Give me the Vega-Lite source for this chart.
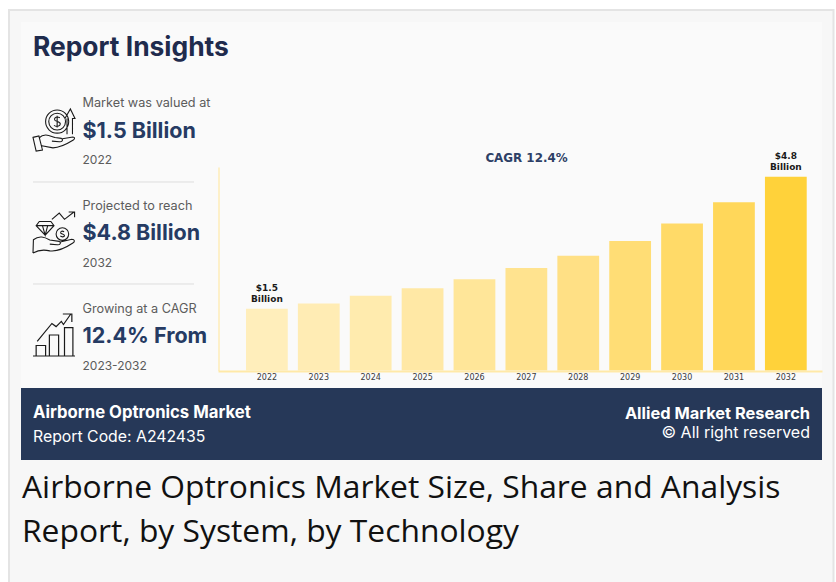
{
"$schema":"https://vega.github.io/schema/vega-lite/v6.json",
"width":836,"height":582,"padding":0,"autosize":{"type":"none"},
"background":"#ffffff",
"config":{"view":{"stroke":null},"axis":{"grid":false}},
"resolve":{"scale":{"x":"independent","y":"independent","color":"independent"},"axis":{"x":"independent","y":"independent"}},
"layer":[
{"data":{"values":[{"area":"card"}]},"mark":{"type":"rect","fill":"#f7f7f7","stroke":"#e4e4e4","strokeWidth":2},
 "encoding":{"x":{"field":"area","type":"nominal","axis":null,"scale":{"range":[9,833.5],"paddingInner":0,"paddingOuter":0}},"y":{"field":"area","type":"nominal","axis":null,"scale":{"range":[10,600],"paddingInner":0,"paddingOuter":0}}}},
{"data":{"values":[{"area":"panel"}]},"mark":{"type":"rect","fill":"#fafafa"},
 "encoding":{"x":{"field":"area","type":"nominal","axis":null,"scale":{"range":[21,822],"paddingInner":0,"paddingOuter":0}},"y":{"field":"area","type":"nominal","axis":null,"scale":{"range":[22,388],"paddingInner":0,"paddingOuter":0}}}},
{"data":{"values":[{"area":"footer"}]},"mark":{"type":"rect","fill":"#263858"},
 "encoding":{"x":{"field":"area","type":"nominal","axis":null,"scale":{"range":[21,822],"paddingInner":0,"paddingOuter":0}},"y":{"field":"area","type":"nominal","axis":null,"scale":{"range":[388,460],"paddingInner":0,"paddingOuter":0}}}},
{"data":{"values":[{"divider":"a"},{"divider":"b"}]},"mark":{"type":"rule","stroke":"#dddddd","strokeWidth":1},
 "encoding":{"x":{"datum":0,"type":"quantitative","axis":null,"scale":{"domain":[0,1],"range":[33,194]}},"x2":{"datum":1},"y":{"field":"divider","type":"nominal","axis":null,"scale":{"type":"point","range":[182,284],"padding":0}}}},
{"data":{"name":"bars","values":[
{"year":"2022","value":1.53},{"year":"2023","value":1.66},{"year":"2024","value":1.85},{"year":"2025","value":2.04},{"year":"2026","value":2.26},{"year":"2027","value":2.54},{"year":"2028","value":2.84},{"year":"2029","value":3.21},{"year":"2030","value":3.64},{"year":"2031","value":4.17},{"year":"2032","value":4.80}]},
 "mark":{"type":"bar"},
 "encoding":{
 "x":{"field":"year","type":"ordinal","scale":{"type":"band","range":[218,822],"paddingInner":0.195,"paddingOuter":0.417,"align":0.647},
  "axis":{"orient":"bottom","offset":-211,"zindex":1,"title":null,"ticks":false,"labelAngle":0,"labelFont":"DejaVu Sans","labelFontSize":8,"labelColor":"#3a3a3a","labelPadding":2,"domainColor":"#ffe9a8","domainWidth":2}},
 "y":{"field":"value","type":"quantitative","scale":{"domain":[0,5.04],"range":[370.5,167],"nice":false},
  "axis":{"orient":"left","offset":-218.5,"zindex":1,"title":null,"ticks":false,"labels":false,"grid":false,"domainColor":"#ffe9a8","domainWidth":1.2}},
 "color":{"field":"year","type":"ordinal","legend":null,"scale":{"range":["#ffeebb","#ffecb4","#ffebae","#ffe8a5","#ffe699","#ffe38f","#ffe085","#ffdd75","#ffda68","#ffd75a","#ffd23a"]}}}},
{"data":{"values":[{"year":"2022","value":1.53,"label":"$1.5\nBillion"},{"year":"2032","value":4.80,"label":"$4.8\nBillion"}]},
 "mark":{"type":"text","font":"DejaVu Sans","fontWeight":"bold","fontSize":9,"color":"#1a1a1a","lineBreak":"\n","lineHeight":11,"baseline":"bottom","dy":-15.5},
 "encoding":{"text":{"field":"label"},
 "x":{"field":"year","type":"ordinal","axis":null,"scale":{"type":"band","domain":["2022","2023","2024","2025","2026","2027","2028","2029","2030","2031","2032"],"range":[218,822],"paddingInner":0.195,"paddingOuter":0.417,"align":0.647}},
 "y":{"field":"value","type":"quantitative","axis":null,"scale":{"domain":[0,5.04],"range":[370.5,167],"nice":false}}}},
{"data":{"values":[{"text":"CAGR 12.4%"}]},
 "mark":{"type":"text","font":"DejaVu Sans","fontWeight":"bold","fontSize":11.9,"color":"#2d3f66","align":"center","baseline":"middle"},
 "encoding":{"text":{"field":"text"},"x":{"datum":0,"type":"quantitative","axis":null,"scale":{"domain":[0,1],"range":[526.5,527]}},"y":{"datum":0,"type":"quantitative","axis":null,"scale":{"domain":[0,1],"range":[158,159]}}}},
{"data":{"values":[{"text":"Report Insights"}]},
 "mark":{"type":"text","font":"Inter","fontWeight":"bold","fontSize":26.4,"color":"#1f2b4d","align":"left","baseline":"middle"},
 "encoding":{"text":{"field":"text"},"x":{"datum":0,"type":"quantitative","axis":null,"scale":{"domain":[0,1],"range":[33,34]}},"y":{"datum":0,"type":"quantitative","axis":null,"scale":{"domain":[0,1],"range":[48,49]}}}},
{"data":{"values":[{"text":"Market was valued at"},{"text":"Projected to reach"},{"text":"Growing at a CAGR"}]},
 "mark":{"type":"text","font":"Inter","fontSize":12.7,"color":"#5c5c5c","align":"left","baseline":"middle"},
 "encoding":{"text":{"field":"text"},"x":{"datum":0,"type":"quantitative","axis":null,"scale":{"domain":[0,1],"range":[82.5,83]}},"y":{"field":"text","type":"nominal","sort":null,"axis":null,"scale":{"type":"point","range":[102.5,308.5],"padding":0}}}},
{"data":{"values":[{"text":"$1.5 Billion"},{"text":"$4.8 Billion"},{"text":"12.4% From"}]},
 "mark":{"type":"text","font":"Inter","fontWeight":"bold","fontSize":21.5,"color":"#263b63","align":"left","baseline":"middle"},
 "encoding":{"text":{"field":"text"},"x":{"datum":0,"type":"quantitative","axis":null,"scale":{"domain":[0,1],"range":[82.5,83]}},"y":{"field":"text","type":"nominal","sort":null,"axis":null,"scale":{"type":"point","range":[131.5,337],"padding":0}}}},
{"data":{"values":[{"text":"2022"},{"text":"2032"},{"text":"2023-2032"}]},
 "mark":{"type":"text","font":"Inter","fontSize":12,"color":"#5c5c5c","align":"left","baseline":"middle"},
 "encoding":{"text":{"field":"text"},"x":{"datum":0,"type":"quantitative","axis":null,"scale":{"domain":[0,1],"range":[82.5,83]}},"y":{"field":"text","type":"nominal","sort":null,"axis":null,"scale":{"type":"point","range":[160,366],"padding":0}}}},
{"data":{"values":[{"text":"Airborne Optronics Market"}]},
 "mark":{"type":"text","font":"Inter","fontWeight":"bold","fontSize":16.7,"color":"#ffffff","align":"left","baseline":"middle"},
 "encoding":{"text":{"field":"text"},"x":{"datum":0,"type":"quantitative","axis":null,"scale":{"domain":[0,1],"range":[33,34]}},"y":{"datum":0,"type":"quantitative","axis":null,"scale":{"domain":[0,1],"range":[412.5,413]}}}},
{"data":{"values":[{"text":"Report Code: A242435"}]},
 "mark":{"type":"text","font":"Inter","fontSize":15.8,"color":"#ffffff","align":"left","baseline":"middle"},
 "encoding":{"text":{"field":"text"},"x":{"datum":0,"type":"quantitative","axis":null,"scale":{"domain":[0,1],"range":[33,34]}},"y":{"datum":0,"type":"quantitative","axis":null,"scale":{"domain":[0,1],"range":[437,438]}}}},
{"data":{"values":[{"text":"Allied Market Research"}]},
 "mark":{"type":"text","font":"Inter","fontWeight":"bold","fontSize":16.4,"color":"#ffffff","align":"right","baseline":"middle"},
 "encoding":{"text":{"field":"text"},"x":{"datum":0,"type":"quantitative","axis":null,"scale":{"domain":[0,1],"range":[810,811]}},"y":{"datum":0,"type":"quantitative","axis":null,"scale":{"domain":[0,1],"range":[413.5,414]}}}},
{"data":{"values":[{"text":"© All right reserved"}]},
 "mark":{"type":"text","font":"Inter","fontSize":16,"color":"#ffffff","align":"right","baseline":"middle"},
 "encoding":{"text":{"field":"text"},"x":{"datum":0,"type":"quantitative","axis":null,"scale":{"domain":[0,1],"range":[810,811]}},"y":{"datum":0,"type":"quantitative","axis":null,"scale":{"domain":[0,1],"range":[433,434]}}}},
{"data":{"values":[{"text":"Airborne Optronics Market Size, Share and Analysis"},{"text":"Report, by System, by Technology"}]},
 "mark":{"type":"text","font":"Open Sans","fontSize":31.8,"color":"#111111","align":"left","baseline":"middle"},
 "encoding":{"text":{"field":"text"},"x":{"datum":0,"type":"quantitative","axis":null,"scale":{"domain":[0,1],"range":[22,23]}},"y":{"field":"text","type":"nominal","sort":null,"axis":null,"scale":{"type":"point","range":[488,532],"padding":0}}}},
{"data":{"values":[{"icon":"valued"}]},
 "mark":{"type":"point","filled":false,"stroke":"#1a1a1a","strokeWidth":1.1,"size":1764,"opacity":1,"shape":"M-1,0.35L-0.72,0.28L-0.55,0.95L-0.85,1Z M-0.72,0.38C-0.45,0.12 -0.2,0.28 0.05,0.36L0.35,0.4C0.45,0.45 0.4,0.58 0.25,0.56L-0.1,0.53 M0.4,0.42L0.9,0.33C1,0.33 1,0.43 0.92,0.48C0.6,0.68 0.3,0.85 -0.05,0.85L-0.58,0.75 M-0.4,-0.4a0.55,0.55 0 1,0 1.1,0a0.55,0.55 0 1,0 -1.1,0 M-0.25,-0.4a0.4,0.4 0 1,0 0.8,0a0.4,0.4 0 1,0 -0.8,0 M0.28,-0.58C0.15,-0.66 0,-0.6 0.03,-0.48C0.06,-0.38 0.3,-0.42 0.3,-0.28C0.3,-0.16 0.1,-0.14 0,-0.22 M0.15,-0.68V-0.12 M0.62,0.2V-0.55 M0.52,-0.55L0.78,-1L1,-0.55H0.88V0.2"},
 "encoding":{"x":{"datum":0,"type":"quantitative","axis":null,"scale":{"domain":[0,1],"range":[54,55]}},"y":{"datum":0,"type":"quantitative","axis":null,"scale":{"domain":[0,1],"range":[130,131]}}}},
{"data":{"values":[{"icon":"projected"}]},
 "mark":{"type":"point","filled":false,"stroke":"#1a1a1a","strokeWidth":1.1,"size":1764,"opacity":1,"shape":"M-1,0.95L-0.98,0.32C-0.7,0.1 -0.45,0.2 -0.2,0.33L0.25,0.4C0.35,0.45 0.3,0.58 0.15,0.56L-0.2,0.53 M0.3,0.43L0.85,0.3C1,0.3 1,0.42 0.9,0.48C0.6,0.68 0.2,0.9 -0.2,0.85C-0.5,0.78 -0.7,0.78 -1,0.95 M-0.7,-0.55H-0.15L0,-0.35L-0.42,0.1L-0.85,-0.35Z M-0.85,-0.35H0 M-0.55,-0.35L-0.42,0.1L-0.3,-0.35 M0.1,0.05a0.3,0.3 0 1,0 0.6,0a0.3,0.3 0 1,0 -0.6,0 M0.48,-0.05C0.4,-0.12 0.3,-0.08 0.32,0C0.34,0.06 0.5,0.04 0.5,0.13C0.48,0.2 0.36,0.2 0.3,0.14 M-0.1,-0.65L0.25,-0.95L0.5,-0.65L0.95,-1 M0.7,-1H0.98V-0.75"},
 "encoding":{"x":{"datum":0,"type":"quantitative","axis":null,"scale":{"domain":[0,1],"range":[54,55]}},"y":{"datum":0,"type":"quantitative","axis":null,"scale":{"domain":[0,1],"range":[233,234]}}}},
{"data":{"values":[{"icon":"growing"}]},
 "mark":{"type":"point","filled":false,"stroke":"#1a1a1a","strokeWidth":1.2,"size":1764,"opacity":1,"shape":"M-1,1H1 M-0.85,1V0.5H-0.4V1 M-0.22,1V0H0.22V1 M0.5,1V-0.35H0.9V1 M-0.8,0.3L-0.1,-0.55L0.1,-0.4L0.35,-0.65L0.45,-0.5L0.8,-1 M0.42,-1H0.85V-0.62"},
 "encoding":{"x":{"datum":0,"type":"quantitative","axis":null,"scale":{"domain":[0,1],"range":[54,55]}},"y":{"datum":0,"type":"quantitative","axis":null,"scale":{"domain":[0,1],"range":[335,336]}}}}
]}
